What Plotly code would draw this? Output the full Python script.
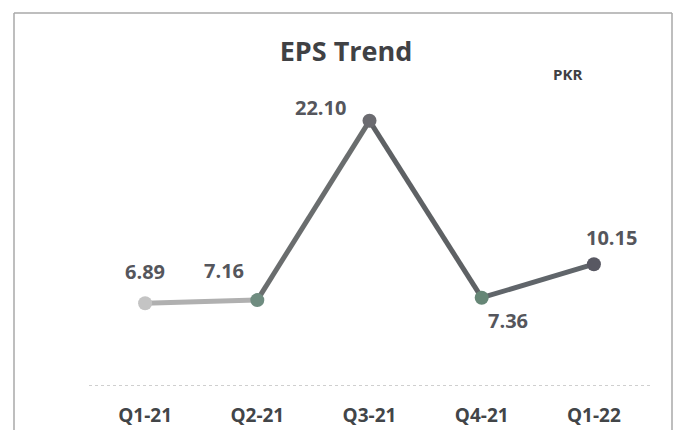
import plotly.graph_objects as go

categories = ["Q1-21", "Q2-21", "Q3-21", "Q4-21", "Q1-22"]
eps = [6.89, 7.16, 22.10, 7.36, 10.15]
label_dx = [0, -33, -49, 26, 18]
label_dy = [32, 30, 13, -23, 27]
marker_colors = ["#c4c4c4", "#6f8c80", "#6b6b70", "#668676", "#585862"]
segment_colors = ["#b0b0b0", "#6a6d6e", "#5e6164", "#60656a"]

FONT = "Open Sans"

fig = go.Figure()

for i in range(len(categories) - 1):
    fig.add_trace(go.Scatter(
        x=categories[i:i + 2], y=eps[i:i + 2], mode="lines",
        line=dict(color=segment_colors[i], width=5),
        hoverinfo="skip", showlegend=False,
    ))

fig.add_trace(go.Scatter(
    x=categories, y=eps, mode="markers",
    marker=dict(color=marker_colors, size=14),
    showlegend=False,
))

annotations = [
    dict(text=f"<b>{v:.2f}</b>", x=c, y=v, xref="x", yref="y",
         xshift=dx, yshift=dy, showarrow=False, xanchor="center", yanchor="middle",
         font=dict(family=FONT, size=20, color="#55565c"))
    for c, v, dx, dy in zip(categories, eps, label_dx, label_dy)
]
annotations.append(
    dict(text="<b>PKR</b>", xref="paper", yref="paper",
         x=(567 - 89) / 561, y=(386 - 74) / 300, xanchor="center", yanchor="middle",
         showarrow=False, font=dict(family=FONT, size=15, color="#404144"))
)

bx0 = (14 - 89) / 561
bx1 = (672 - 89) / 561
by_top = (386 - 13) / 300
by_bot = (386 - 432) / 300

fig.update_layout(
    width=678, height=430,
    margin=dict(l=89, r=28, t=86, b=44),
    paper_bgcolor="white", plot_bgcolor="white",
    font=dict(family=FONT),
    title=dict(text="<b>EPS Trend</b>", x=346 / 678, xanchor="center",
               y=1 - 52 / 430, yanchor="middle",
               font=dict(family=FONT, size=27, color="#404144")),
    xaxis=dict(
        type="category", range=[-0.5, 4.5], showgrid=False, zeroline=False,
        showline=False, ticks="", automargin=False,
        tickfont=dict(family=FONT, size=19, color="#424548", weight="bold"),
        ticklabelstandoff=16,
    ),
    yaxis=dict(range=[0, 25], visible=False, showgrid=False, zeroline=False,
               automargin=False),
    shapes=[
        dict(type="line", xref="paper", yref="y", x0=0, x1=1, y0=0, y1=0,
             line=dict(color="#c0c0c0", width=1.5, dash="dot")),
        dict(type="line", xref="paper", yref="paper", x0=bx0, x1=bx0, y0=by_top, y1=by_bot,
             line=dict(color="#a8a8a8", width=1.5)),
        dict(type="line", xref="paper", yref="paper", x0=bx1, x1=bx1, y0=by_top, y1=by_bot,
             line=dict(color="#a8a8a8", width=1.5)),
        dict(type="line", xref="paper", yref="paper", x0=bx0, x1=bx1, y0=by_top, y1=by_top,
             line=dict(color="#a8a8a8", width=1.5)),
    ],
    annotations=annotations,
)

fig.write_html("out.html")
